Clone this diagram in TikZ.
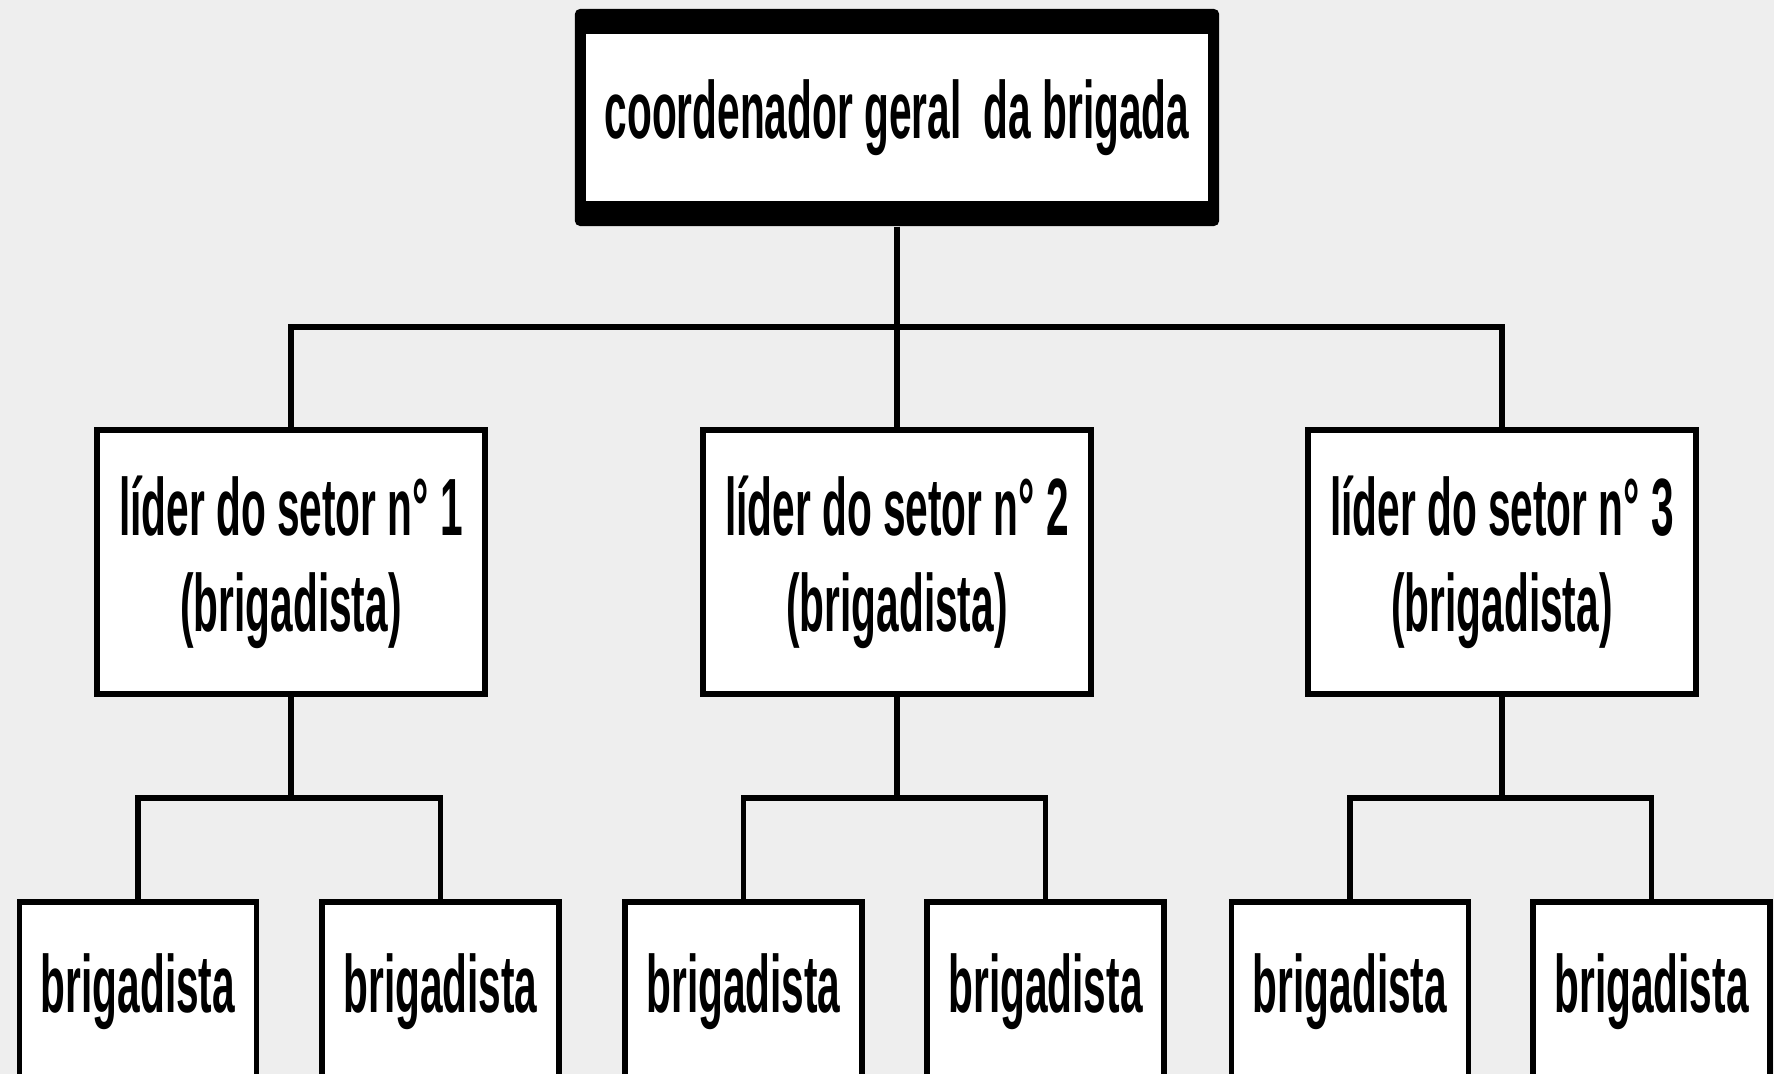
\documentclass[tikz,border=0pt]{standalone}
\usepackage{fontspec}
\setmainfont{Liberation Sans}[FakeStretch=0.5]
\usetikzlibrary{calc}

\definecolor{fundo}{RGB}{238,238,238}

\tikzset{
  caixa/.style={draw, line width=1.6pt, fill=white, align=center, inner sep=0pt,
    font=\fontsize{23.1}{27.3}\selectfont\bfseries},
  lider/.style={caixa, minimum width=3.88cm, minimum height=2.64cm},
  brig/.style={caixa, minimum width=2.37cm, minimum height=1.80cm},
  moldura/.style={fill=black, rounded corners=1.5pt, minimum width=6.44cm, minimum height=2.17cm},
  ramo/.style={line width=1.5pt, to path={|- ($(\tikztostart)!.5!(\tikztotarget)$) -| (\tikztotarget)}}
}

\begin{document}
\begin{tikzpicture}[x=0.01cm, y=-0.01cm]
      % Fundo
      \fill [fundo] (0,0) rectangle (1774,1074);
      \useasboundingbox (0,0) rectangle (1774,1074);
      \clip (0,0) rectangle (1774,1074);

      % Coordenador
      \node [moldura] (geralmoldura) at (897,117.5) {};
      \node [caixa, draw=none, minimum width=6.22cm, minimum height=1.67cm] (geral) at (geralmoldura) {coordenador geral~ da brigada};

      % Lideres
      \node [lider] (lider1) at (291,562) {líder do setor n° 1\\(brigadista)};
      \node [lider] (lider2) at (897,562) {líder do setor n° 2\\(brigadista)};
      \node [lider] (lider3) at (1502,562) {líder do setor n° 3\\(brigadista)};

      % Brigadistas
      \node [brig] (brig11) at (138,992) {brigadista};
      \node [brig] (brig12) at (440.5,992) {brigadista};
      \node [brig] (brig21) at (743.5,992) {brigadista};
      \node [brig] (brig22) at (1045.5,992) {brigadista};
      \node [brig] (brig31) at (1350,992) {brigadista};
      \node [brig] (brig32) at (1651.5,992) {brigadista};

      % Ligacoes
      \foreach \i in {1,2,3}
        \draw [ramo] (geralmoldura.south) to (lider\i.north);
      \foreach \i in {1,2,3} {
        \draw [ramo] (lider\i.south) to (brig\i1.north);
        \draw [ramo] (lider\i.south) to (brig\i2.north);
      }
\end{tikzpicture}
\end{document}
